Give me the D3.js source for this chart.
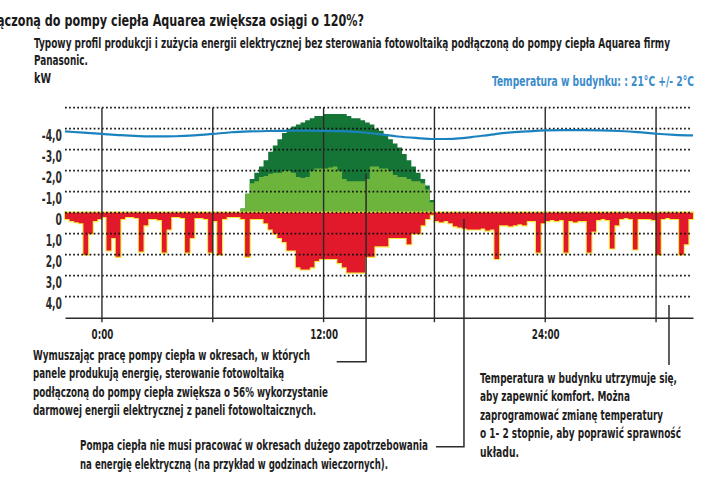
<!DOCTYPE html>
<html>
<head>
<meta charset="utf-8">
<script src="https://cdn.jsdelivr.net/npm/d3@7"></script>
<style>
  html, body { margin: 0; padding: 0; background: #fff; }
  svg { display: block; }
  text { font-family: "Liberation Sans Narrow", "DejaVu Sans Condensed", "DejaVu Sans", sans-serif; }
</style>
</head>
<body>
<svg id="chart" width="719" height="482"></svg>
<script>
// ---- Data: one day-and-a-half profile, 15-minute steps starting at -2:00 ----
const stepHours = 0.25;
const seriesStart = -2;

// Electricity consumption of the house (kW, drawn downward)
const consumption = [
  0.3, 0.4, 0.45, 0.5,    2.0, 1.0, 0.4, 0.3,
  0.2, 1.8, 1.2, 2.1,     0.3, 0.2, 0.2, 0.25,
  1.85, 0.6, 0.3, 0.3,    0.35, 1.9, 0.8, 0.2,
  0.2, 0.25, 1.9, 1.2,    0.25, 0.25, 0.3, 1.9,
  0.4, 2.0, 0.3, 0.2,     0.2, 0.2, 0.3, 2.1,
  0.3, 0.3, 0.3, 0.5,     0.8, 1.0, 1.2, 1.4,
  1.8, 1.8, 2.6, 2.7,     2.7, 2.6, 2.3, 2.2,
  2.2, 2.2, 2.2, 2.4,     2.6, 2.85, 2.85, 2.85,
  2.85, 2.1, 2.1, 1.6,    1.6, 1.6, 1.2, 1.2,
  1.2, 1.2, 1.5, 1.0,     1.0, 0.6, 0.3, 0.1,
  0.4, 0.45, 0.4, 0.5,    0.65, 0.7, 0.75, 0.8,
  0.8, 0.8, 0.75, 0.85,   0.8, 2.2, 0.6, 0.6,
  0.65, 0.6, 0.55, 0.6,   0.4, 0.4, 1.9, 0.5,
  0.4, 0.35, 0.4, 0.35,   1.9, 0.4, 0.45, 0.4,
  0.4, 1.9, 0.9, 0.35,    0.3, 0.35, 1.7, 0.6,
  0.3, 0.25, 0.3, 1.75,   0.3, 0.3, 0.3, 0.35,
  2.0, 0.3, 0.25, 0.3,    0.3, 2.0, 1.5, 0.3,
  0.3
];

// Photovoltaic output (kW, drawn upward as negative values), from 7:15
const pvStart = 7.25;
const pvTotal = [
  0, -0.2, -0.9,
  -1.6, -1.9, -2.2, -2.5,   -2.9, -3.2, -3.5, -3.8,
  -4.0, -4.1, -4.2, -4.3,   -4.4, -4.5, -4.6, -4.6,
  -4.7, -4.7, -4.7, -4.7,   -4.7, -4.6, -4.5, -4.5,
  -4.4, -4.3, -4.2, -4.0,   -3.9, -3.7, -3.5, -3.3,
  -3.1, -2.8, -2.5, -2.2,   -1.9, -1.6, -1.3, -0.6,
  0
];
// Part of the PV output used by the house itself
const pvUsed = [
  0, -0.2, -0.9,
  -1.4, -1.5, -1.7, -1.75,  -1.85, -1.9, -1.9, -2.0,
  -2.0, -1.9, -1.7, -1.65,  -1.7, -2.0, -2.1, -2.1,
  -2.1, -2.15, -2.2, -2.0,  -1.6, -1.5, -1.5, -1.5,
  -1.5, -1.6, -2.2, -2.2,   -2.1, -2.1, -2.0, -1.8,
  -1.7, -1.7, -1.6, -1.5,   -1.5, -1.4, -1.1, -0.5,
  0
];

// Indoor temperature (°C), hourly from -2:00
const tempStart = -2;
const temperature = [
  20.87, 20.81, 20.75, 20.69, 20.65, 20.63, 20.64, 20.68, 20.75, 20.83,
  20.87, 20.89, 20.90, 20.91, 20.90, 20.88, 20.83, 20.74, 20.63, 20.56,
  20.51, 20.52, 20.60, 20.71, 20.81, 20.87, 20.92, 20.93, 20.93, 20.92,
  20.89, 20.84, 20.76, 20.71, 20.68
];

const gridValues = [-5, -4, -3, -2, -1, 0, 1, 2, 3, 4];
const yTickValues = [-4, -3, -2, -1, 0, 1, 2, 3, 4];
const yTickLabels = ["-4,0", "-3,0", "-2,0", "-1,0", "0", "1,0", "2,0", "3,0", "4,0"];
const hourLines = [0, 6, 12, 18, 24, 30];
const xTickValues = [0, 12, 24];
const xTickLabels = ["0:00", "12:00", "24:00"];

const titleText = "ączoną do pompy ciepła Aquarea zwiększa osiągi o 120%?";
const subtitleLines = [
  "Typowy profil produkcji i zużycia energii elektrycznej bez sterowania fotowoltaiką podłączoną do pompy ciepła Aquarea firmy",
  "Panasonic."
];
const unitLabel = "kW";
const tempLabel = "Temperatura w budynku: : 21°C +/- 2°C";
const note1 = [
  "Wymuszając pracę pompy ciepła w okresach, w których",
  "panele produkują energię, sterowanie fotowoltaiką",
  "podłączoną do pompy ciepła zwiększa o 56% wykorzystanie",
  "darmowej energii elektrycznej z paneli fotowoltaicznych."
];
const note2 = [
  "Pompa ciepła nie musi pracować w okresach dużego zapotrzebowania",
  "na energię elektryczną (na przykład w godzinach wieczornych)."
];
const note3 = [
  "Temperatura w budynku utrzymuje się,",
  "aby zapewnić komfort. Można",
  "zaprogramować zmianę temperatury",
  "o 1- 2 stopnie, aby poprawić sprawność",
  "układu."
];

// ---- Scales ----
const svg = d3.select("#chart");
const x = d3.scaleLinear().domain([-2, 32]).range([65, 693]);
const y = d3.scaleLinear().domain([-5, 5]).range([107.7, 317.7]);
const yTemp = d3.scaleLinear().domain([19, 23]).range([y(-2), y(-6)]);

const toPoints = (arr, start, step) => arr.map((v, i) => ({ t: start + i * step, v }));
const consPts = toPoints(consumption, seriesStart, stepHours);
const pvTotPts = toPoints(pvTotal, pvStart, stepHours);
const pvUsedPts = toPoints(pvUsed, pvStart, stepHours);
const tempPts = toPoints(temperature, tempStart, 1);

const stepArea = d3.area()
  .curve(d3.curveStepAfter)
  .x(d => x(d.t))
  .y0(y(0))
  .y1(d => y(d.v));

// ---- Areas ----
const plot = svg.append("g");
plot.append("path").datum(pvTotPts).attr("d", stepArea).attr("fill", "#157537");
plot.append("path").datum(pvUsedPts).attr("d", stepArea).attr("fill", "#6cb43c");
plot.append("path").datum(consPts).attr("d", stepArea)
  .attr("fill", "#f4e842").attr("stroke", "#f4e842").attr("stroke-width", 2.2)
  .attr("stroke-linejoin", "miter");
plot.append("path").datum(consPts).attr("d", stepArea).attr("fill", "#e2182b");

// ---- Dotted grid ----
svg.append("g").selectAll("line").data(gridValues).join("line")
  .attr("x1", 65).attr("x2", 692)
  .attr("y1", d => y(d)).attr("y2", d => y(d))
  .attr("stroke", "#111").attr("stroke-width", 1.7)
  .attr("stroke-dasharray", "1.7,2.4");

// ---- Hour lines ----
svg.append("g").selectAll("line").data(hourLines).join("line")
  .attr("x1", d => x(d)).attr("x2", d => x(d))
  .attr("y1", y(-5)).attr("y2", y(5) + 4.5)
  .attr("stroke", "#2b2b2b").attr("stroke-width", 1.4);

// ---- Temperature curve ----
svg.append("path").datum(tempPts)
  .attr("d", d3.line().curve(d3.curveMonotoneX).x(d => x(d.t)).y(d => yTemp(d.v)))
  .attr("fill", "none").attr("stroke", "#1a83bf").attr("stroke-width", 2.2);

// Squeeze a text element horizontally to a share of its natural width
function condense(sel, factor) {
  sel.each(function () {
    const w = this.getComputedTextLength();
    d3.select(this).attr("textLength", w * factor).attr("lengthAdjust", "spacingAndGlyphs");
  });
}

// ---- Axes ----
const xAxis = svg.append("g").attr("transform", `translate(0,${y(5)})`)
  .call(d3.axisBottom(x).tickValues(xTickValues)
    .tickFormat((d, i) => xTickLabels[i]).tickSize(0).tickPadding(12).tickSizeOuter(0));
xAxis.select(".domain").attr("stroke", "#2b2b2b").attr("stroke-width", 1.5);
xAxis.selectAll("text").attr("font-size", 13.5).attr("font-weight", "bold")
  .attr("fill", "#1e1e1e").attr("font-family", null);
condense(xAxis.selectAll("text"), 0.72);

const yAxis = svg.append("g").attr("transform", "translate(62,0)")
  .call(d3.axisLeft(y).tickValues(yTickValues)
    .tickFormat((d, i) => yTickLabels[i]).tickSize(0).tickPadding(0));
yAxis.select(".domain").remove();
yAxis.selectAll("text").attr("font-size", 15.5).attr("font-weight", "bold")
  .attr("dy", "0.73em").attr("fill", "#2a2a2a").attr("font-family", null);
condense(yAxis.selectAll("text"), 0.66);

// ---- Text helpers ----
function label(str, px, py, size, weight, fill, width, anchor) {
  const t = svg.append("text").attr("x", px).attr("y", py)
    .attr("font-size", size).attr("font-weight", weight || "normal")
    .attr("fill", fill || "#1e1e1e").attr("text-anchor", anchor || "start")
    .text(str);
  if (width) t.attr("textLength", width).attr("lengthAdjust", "spacingAndGlyphs");
  return t;
}
function block(lines, px, py0, lead, size, widths) {
  lines.forEach((s, i) => label(s, px, py0 + i * lead, size, "bold", "#1e1e1e", widths[i]));
}

label(titleText, -3, 26, 16, "bold", "#1a1a1a", 367);
label(subtitleLines[0], 34, 48, 14.5, "bold", "#1e1e1e", 636);
label(subtitleLines[1], 34, 65, 14.5, "bold", "#1e1e1e", 54);
label(unitLabel, 34, 82.5, 14.5, "bold", "#1e1e1e", 17);
label(tempLabel, 492, 86, 14.5, "bold", "#3a8ccc", 202);

block(note1, 33, 360, 18.4, 14.5, [277, 251, 295, 283]);
block(note2, 80, 450, 19, 14.5, [348, 308]);
block(note3, 480, 382.7, 18.5, 14.5, [197, 150, 183, 201, 39]);

// ---- Callout connectors ----
const callout = d3.line();
const connectors = [
  [[x(14.3), y(-1.85)], [x(14.3), 361.7], [336.7, 361.7]],
  [[x(19.6), y(0.3)], [x(19.6), 446.7], [436, 446.7]],
  [[x(30.7), y(4.4)], [x(30.7), 365]]
];
svg.append("g").selectAll("path").data(connectors).join("path")
  .attr("d", callout).attr("fill", "none")
  .attr("stroke", "#2b2b2b").attr("stroke-width", 1.5);
</script>
</body>
</html>
